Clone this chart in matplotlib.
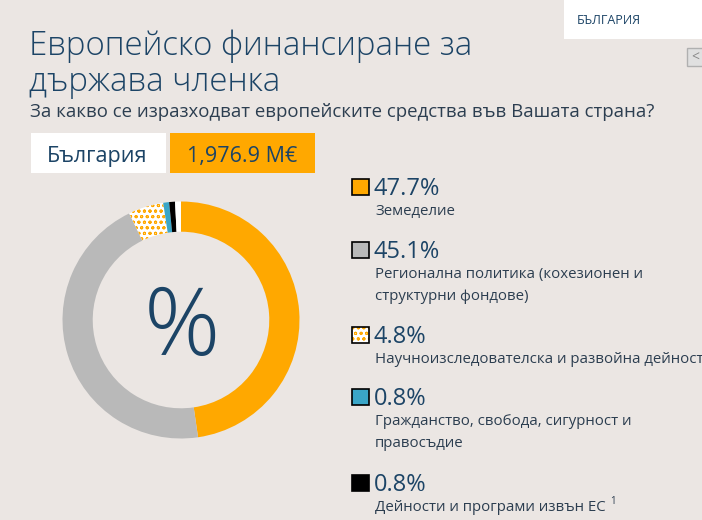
import matplotlib.pyplot as plt
from matplotlib.patches import Rectangle

plt.rcParams['font.family'] = ['Open Sans', 'DejaVu Sans']
plt.rcParams['hatch.linewidth'] = 0.7

BG = '#ebe6e3'
NAVY = '#1c4466'
TEXT = '#2c3e50'

# data
title_lines = ['Европейско финансиране за', 'държава членка']
subtitle = 'За какво се изразходват европейските средства във Вашата страна?'
country = 'България'
total = '1,976.9 M€'
shares = [47.7, 45.1, 4.8, 0.8, 0.8, 0.8]
pct_labels = ['47.7%', '45.1%', '4.8%', '0.8%', '0.8%']
labels = [['Земеделие'],
          ['Регионална политика (кохезионен и', 'структурни фондове)'],
          ['Научноизследователска и развойна дейност'],
          ['Гражданство, свобода, сигурност и', 'правосъдие'],
          ['Дейности и програми извън ЕС']]
colors = ['#ffa800', '#b9b9b9', 'white', '#3aa6c8', 'black', 'white']
hatches = [None, None, 'ooo', None, None, None]

fig = plt.figure(figsize=(7.02, 5.2), dpi=100, facecolor=BG)

# donut
cx, cy, r = 181, 320, 118.5
pax = fig.add_axes([(cx - r) / 702, (520 - cy - r) / 520, 2 * r / 702, 2 * r / 520])
wedges, _ = pax.pie(shares, colors=colors, startangle=90, counterclock=False,
                    radius=1, wedgeprops=dict(width=0.255, linewidth=0))
for w, h in zip(wedges, hatches):
    if h:
        w.set_hatch(h)
        w.set_edgecolor('#ffa800')
        w.set_linewidth(0)
pax.set_xlim(-1, 1)
pax.set_ylim(-1, 1)
pax.axis('off')

# overlay in pixel coords
ax = fig.add_axes([0, 0, 1, 1], facecolor='none')
ax.set_xlim(0, 702)
ax.set_ylim(520, 0)
ax.axis('off')

ax.text(cx + 1, cy + 11, '%', fontsize=68, color=NAVY, ha='center', va='center',
        fontweight='light')

for line, base in zip(title_lines, [55, 91]):
    ax.text(29, base, line, fontsize=23.8, color=NAVY, va='baseline',
            fontweight='light')
ax.text(30, 117, subtitle, fontsize=13.4, color=TEXT, va='baseline')

ax.add_patch(Rectangle((31, 133), 135, 40, facecolor='white', lw=0))
ax.text(47, 162, country, fontsize=15.5, color=NAVY, va='baseline')
ax.add_patch(Rectangle((170, 133), 145, 40, facecolor='#ffa800', lw=0))
ax.text(187, 162, total, fontsize=15.5, color=NAVY, va='baseline')

# top-right tab
ax.add_patch(Rectangle((564, -5), 140, 44, facecolor='white', lw=0))
ax.text(577, 24, 'БЪЛГАРИЯ', fontsize=9, color=NAVY, va='baseline')
ax.add_patch(Rectangle((687, 48), 16, 18, facecolor='#e0e0e0',
                       edgecolor='#b0b0b0', lw=1))
ax.text(695, 58, '<', fontsize=10, color='#888888', ha='center', va='center')

# legend
tops = [179, 242, 327, 389, 475]
leg_colors = ['#ffa800', '#b9b9b9', 'white', '#3aa6c8', 'black']
last = None
for i, top in enumerate(tops):
    ax.add_patch(Rectangle((352, top), 17, 16, facecolor=leg_colors[i],
                           edgecolor='#ffa800' if hatches[i] else 'none',
                           hatch=hatches[i], lw=0))
    ax.add_patch(Rectangle((352, top), 17, 16, facecolor='none',
                           edgecolor='black', lw=1.2))
    ax.text(374, top + 16, pct_labels[i], fontsize=17, color=NAVY,
            va='baseline')
    for j, line in enumerate(labels[i]):
        last = ax.text(375, top + 36 + 22 * j, line, fontsize=10.8, color=TEXT,
                       va='baseline')
ax.annotate('1', xy=(1, 1), xycoords=last, xytext=(3, 3),
            textcoords='offset points', fontsize=7, color=TEXT,
            ha='left', va='top')

fig.savefig('out.png', dpi=100, facecolor=BG)
